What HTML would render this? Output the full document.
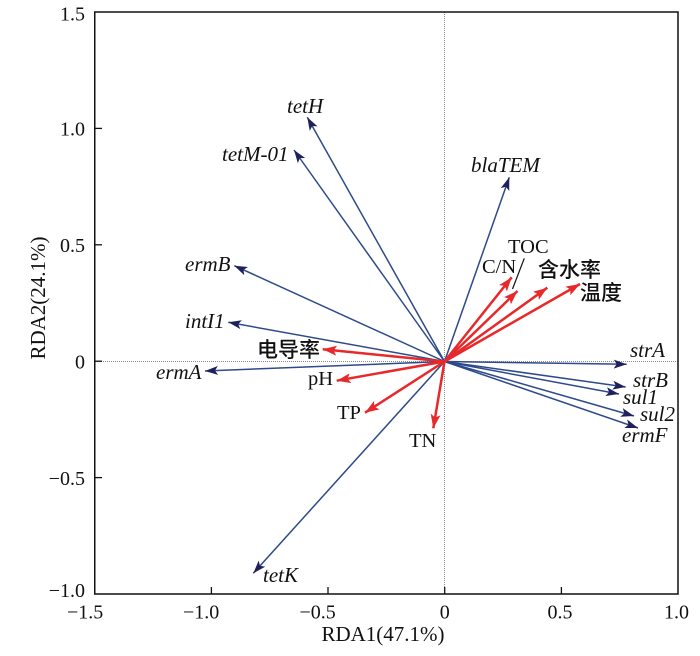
<!DOCTYPE html>
<html>
<head>
<meta charset="utf-8">
<style>
  html, body { margin: 0; padding: 0; background: #ffffff; }
  svg { display: block; }
  .tick { font-family: "Liberation Serif", serif; font-size: 20px; fill: #111; }
  .it { font-family: "Liberation Serif", serif; font-style: italic; font-size: 21px; fill: #111; }
  .up { font-family: "Liberation Serif", serif; font-size: 20.5px; fill: #111; }
  .cjk { font-family: "Liberation Sans", "Noto Sans CJK SC", sans-serif; font-size: 21px; fill: #111; font-weight: 500; }
  .title { font-family: "Liberation Serif", serif; font-size: 21px; fill: #111; }
</style>
</head>
<body>
<svg width="700" height="656" viewBox="0 0 700 656" xmlns="http://www.w3.org/2000/svg">
  <defs>
    <marker id="hb" markerUnits="userSpaceOnUse" markerWidth="14" markerHeight="9" viewBox="0 0 14 9" refX="13" refY="4.5" orient="auto">
      <path d="M0,0 L13,4.5 L0,9 L3,4.5 Z" fill="#1f205c"/>
    </marker>
    <marker id="hr" markerUnits="userSpaceOnUse" markerWidth="15" markerHeight="10" viewBox="0 0 15 10" refX="14" refY="5" orient="auto">
      <path d="M0,0 L14,5 L0,10 L3,5 Z" fill="#e8292b"/>
    </marker>
  </defs>

  <!-- dotted zero lines -->
  <line x1="95" y1="361.5" x2="678" y2="361.5" stroke="#8a8a8a" stroke-width="1" stroke-dasharray="1,1"/>
  <line x1="444.5" y1="12" x2="444.5" y2="594" stroke="#8a8a8a" stroke-width="1" stroke-dasharray="1,1"/>

  <!-- frame -->
  <rect x="94.75" y="12" width="583.25" height="582" fill="none" stroke="#111" stroke-width="1.5"/>

  <!-- ticks left -->
  <g stroke="#111" stroke-width="1.3">
    <line x1="95" y1="128.4" x2="102" y2="128.4"/>
    <line x1="95" y1="244.8" x2="102" y2="244.8"/>
    <line x1="95" y1="361.2" x2="102" y2="361.2"/>
    <line x1="95" y1="477.6" x2="102" y2="477.6"/>
    <!-- ticks bottom -->
    <line x1="211.4" y1="594" x2="211.4" y2="587"/>
    <line x1="328" y1="594" x2="328" y2="587"/>
    <line x1="444.7" y1="594" x2="444.7" y2="587"/>
    <line x1="561.4" y1="594" x2="561.4" y2="587"/>
  </g>

  <!-- y tick labels -->
  <g class="tick" text-anchor="end">
    <text x="85" y="20.5">1.5</text>
    <text x="85" y="135.5">1.0</text>
    <text x="85" y="252">0.5</text>
    <text x="85" y="368.5">0</text>
    <text x="85" y="485">−0.5</text>
    <text x="85" y="597">−1.0</text>
  </g>
  <!-- x tick labels -->
  <g class="tick">
    <text x="67" y="618.5">−1.5</text>
    <text x="183" y="618.5">−1.0</text>
    <text x="299.5" y="618.5">−0.5</text>
    <text x="439.7" y="618.5">0</text>
    <text x="547.5" y="618.5">0.5</text>
    <text x="664" y="618.5">1.0</text>
  </g>

  <!-- axis titles -->
  <text class="title" x="383" y="641" text-anchor="middle">RDA1(47.1%)</text>
  <text class="title" transform="translate(45,298) rotate(-90)" text-anchor="middle">RDA2(24.1%)</text>

  <!-- blue arrows -->
  <g stroke="#2d4a8a" stroke-width="1.5" marker-end="url(#hb)">
    <line x1="444.5" y1="361.5" x2="307.3" y2="117.3"/>
    <line x1="444.5" y1="361.5" x2="294" y2="150"/>
    <line x1="444.5" y1="361.5" x2="234.3" y2="265.7"/>
    <line x1="444.5" y1="361.5" x2="228.3" y2="322.3"/>
    <line x1="444.5" y1="361.5" x2="205" y2="371"/>
    <line x1="444.5" y1="361.5" x2="253.3" y2="573.3"/>
    <line x1="444.5" y1="361.5" x2="509.3" y2="177.3"/>
    <line x1="444.5" y1="361.5" x2="626.7" y2="364.3"/>
    <line x1="444.5" y1="361.5" x2="625.7" y2="387"/>
    <line x1="444.5" y1="361.5" x2="619" y2="394"/>
    <line x1="444.5" y1="361.5" x2="634" y2="416"/>
    <line x1="444.5" y1="361.5" x2="638" y2="428"/>
  </g>

  <!-- red arrows -->
  <g stroke="#e8292b" stroke-width="2.5" marker-end="url(#hr)">
    <line x1="444.5" y1="361.5" x2="322.7" y2="349.3"/>
    <line x1="444.5" y1="361.5" x2="336.7" y2="380.7"/>
    <line x1="444.5" y1="361.5" x2="365" y2="412.7"/>
    <line x1="444.5" y1="361.5" x2="433.3" y2="428.3"/>
    <line x1="444.5" y1="361.5" x2="511.7" y2="277.3"/>
    <line x1="444.5" y1="361.5" x2="517.5" y2="291"/>
    <line x1="444.5" y1="361.5" x2="547.3" y2="287.7"/>
    <line x1="444.5" y1="361.5" x2="580" y2="284"/>
  </g>

  <!-- TOC leader -->
  <line x1="524.3" y1="258.3" x2="512.5" y2="289" stroke="#111" stroke-width="1.2"/>

  <!-- italic gene labels -->
  <g class="it">
    <text x="287" y="113">tetH</text>
    <text x="222" y="161">tetM-01</text>
    <text x="185" y="271">ermB</text>
    <text x="185" y="328">intI1</text>
    <text x="156" y="379">ermA</text>
    <text x="263" y="582">tetK</text>
    <text x="471" y="172">blaTEM</text>
    <text x="630" y="357">strA</text>
    <text x="633" y="387">strB</text>
    <text x="623" y="404">sul1</text>
    <text x="640" y="421">sul2</text>
    <text x="622" y="442">ermF</text>
  </g>

  <!-- environment labels -->
  <g class="up">
    <text x="308" y="385">pH</text>
    <text x="337" y="419">TP</text>
    <text x="409" y="447">TN</text>
    <text x="508" y="253">TOC</text>
    <text x="482" y="273">C/N</text>
  </g>
  <g class="cjk">
    <text x="257" y="357">电导率</text>
    <text x="538" y="277">含水率</text>
    <text x="580" y="300">温度</text>
  </g>
</svg>
</body>
</html>
